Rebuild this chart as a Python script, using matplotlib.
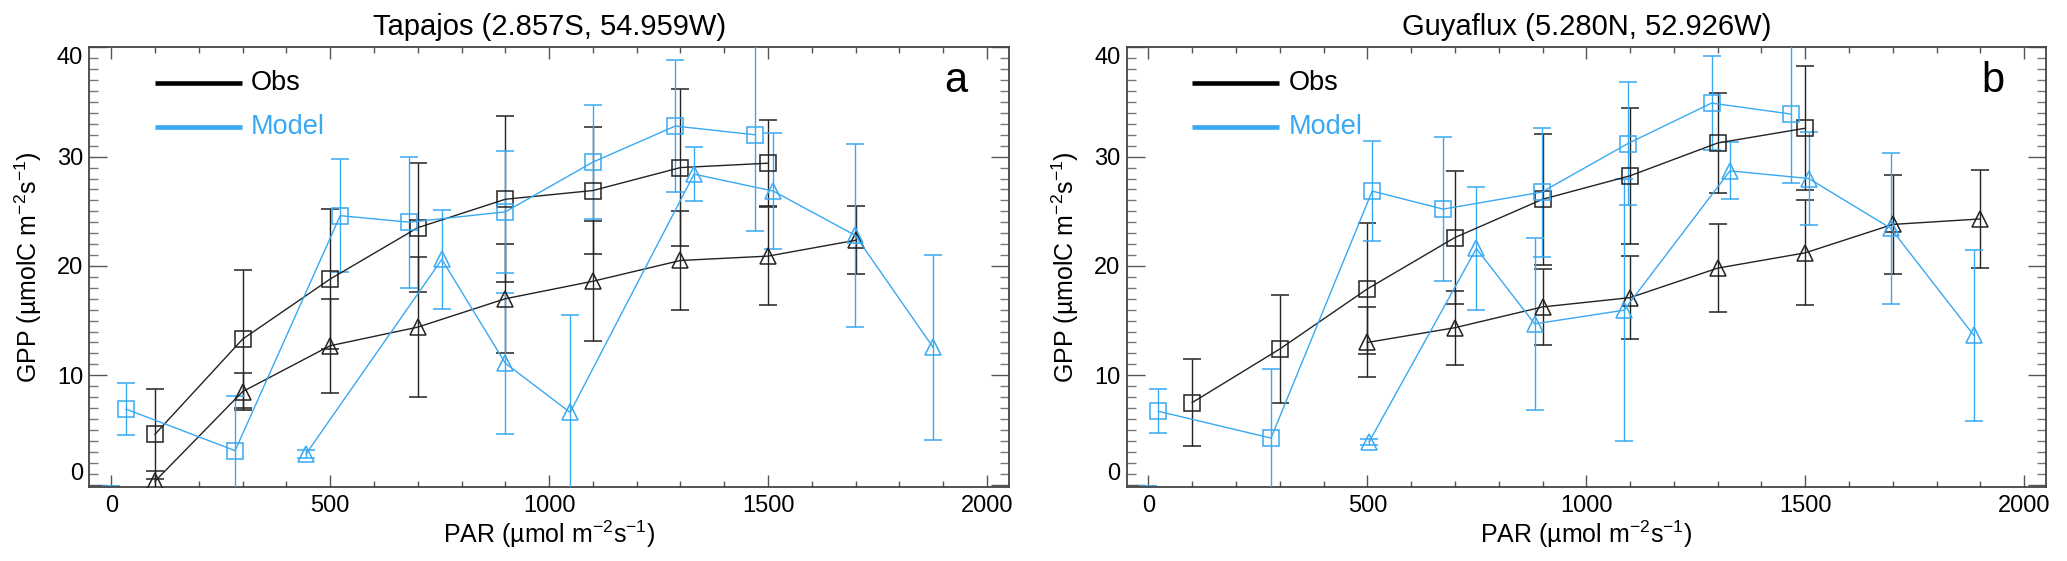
import matplotlib
matplotlib.use("Agg")
import matplotlib.pyplot as plt
from matplotlib.ticker import MultipleLocator, FixedLocator

plt.rcParams['font.family'] = ['Liberation Sans', 'DejaVu Sans']
plt.rcParams['mathtext.fontset'] = 'custom'
plt.rcParams['mathtext.rm'] = 'Liberation Sans'
plt.rcParams['mathtext.it'] = 'Liberation Sans:italic'

OBS_C = '#222222'
MOD_C = '#38A9F2'

titles = ["Tapajos (2.857S, 54.959W)", "Guyaflux (5.280N, 52.926W)"]
panel_letters = ["a", "b"]
legend_labels = ["Obs", "Model"]

# ---- Panel a : Tapajos ----
obs_sq_x_a = [100, 300, 500, 700, 900, 1100, 1300, 1500]
obs_sq_y_a = [4.6, 13.3, 18.8, 23.5, 26.1, 26.9, 29.0, 29.4]
obs_sq_e_a = [4.1, 6.3, 6.4, 5.9, 7.6, 5.8, 7.2, 3.95]
obs_tri_x_a = [100, 300, 500, 700, 900, 1100, 1300, 1500, 1700]
obs_tri_y_a = [0.3, 8.5, 12.7, 14.4, 17.0, 18.6, 20.5, 20.9, 22.35]
obs_tri_e_a = [0.9, 1.7, 4.3, 6.4, 5.0, 5.5, 4.5, 4.5, 3.1]
mod_sq_x_a = [34, 283, 523, 681, 900, 1100, 1288, 1470]
mod_sq_y_a = [6.9, 3.1, 24.6, 24.0, 24.95, 29.5, 32.8, 32.0]
mod_sq_e_a = [2.4, 5.0, 5.15, 6.0, 5.55, 5.2, 6.0, 8.8]
mod_tri_x_a = [445, 755, 900, 1048, 1331, 1512, 1699, 1877]
mod_tri_y_a = [2.8, 20.6, 11.1, 6.6, 28.4, 26.85, 22.8, 12.55]
mod_tri_e_a = [0.35, 4.5, 6.45, 8.95, 2.45, 5.3, 8.4, 8.45]
stray_x_a = [0]
stray_y_a = [-1.1]
stray_e_a = [1.0]

# ---- Panel b : Guyaflux ----
obs_sq_x_b = [100, 300, 500, 700, 900, 1100, 1300, 1500]
obs_sq_y_b = [7.5, 12.4, 17.9, 22.6, 26.1, 28.25, 31.25, 32.6]
obs_sq_e_b = [3.95, 4.9, 6.0, 6.1, 6.0, 6.2, 4.6, 5.65]
obs_tri_x_b = [500, 700, 900, 1100, 1300, 1500, 1700, 1900]
obs_tri_y_b = [13.0, 14.35, 16.25, 17.1, 19.8, 21.2, 23.8, 24.3]
obs_tri_e_b = [3.2, 3.4, 3.45, 3.8, 4.0, 4.8, 4.5, 4.5]
mod_sq_x_b = [23, 280, 511, 673, 898, 1095, 1286, 1467]
mod_sq_y_b = [6.7, 4.25, 26.85, 25.2, 26.75, 31.2, 34.9, 33.9]
mod_sq_e_b = [2.0, 6.3, 4.55, 6.6, 5.9, 5.6, 4.3, 6.3]
mod_tri_x_b = [504, 749, 882, 1086, 1328, 1508, 1695, 1885]
mod_tri_y_b = [3.9, 21.6, 14.7, 15.95, 28.7, 28.0, 23.45, 13.65]
mod_tri_e_b = [0.3, 5.6, 7.9, 12.0, 2.6, 4.25, 6.9, 7.85]
stray_x_b = [0]
stray_y_b = [-1.1]
stray_e_b = [1.0]

x_ticks = [0, 500, 1000, 1500, 2000]
y_ticks = [0, 10, 20, 30, 40]
xlabel = "PAR (µmol m$^{-2}$s$^{-1}$)"
ylabel = "GPP (µmolC m$^{-2}$s$^{-1}$)"

panels = [
    dict(obs_sq=(obs_sq_x_a, obs_sq_y_a, obs_sq_e_a),
         obs_tri=(obs_tri_x_a, obs_tri_y_a, obs_tri_e_a),
         mod_sq=(mod_sq_x_a, mod_sq_y_a, mod_sq_e_a),
         mod_tri=(mod_tri_x_a, mod_tri_y_a, mod_tri_e_a),
         stray=(stray_x_a, stray_y_a, stray_e_a)),
    dict(obs_sq=(obs_sq_x_b, obs_sq_y_b, obs_sq_e_b),
         obs_tri=(obs_tri_x_b, obs_tri_y_b, obs_tri_e_b),
         mod_sq=(mod_sq_x_b, mod_sq_y_b, mod_sq_e_b),
         mod_tri=(mod_tri_x_b, mod_tri_y_b, mod_tri_e_b),
         stray=(stray_x_b, stray_y_b, stray_e_b)),
]

fig = plt.figure(figsize=(20.67, 5.61), dpi=100)
lefts = [0.0432, 0.5450]

def eb(ax, data, color, marker, ms):
    x, y, e = data
    ax.errorbar(x, y, yerr=e, color=color, lw=1.0, marker=marker, ms=ms,
                mfc='none', mec=color, mew=1.1, elinewidth=1.0,
                capsize=6.5, capthick=1.0, zorder=3)

for i, p in enumerate(panels):
    ax = fig.add_axes([lefts[i], 0.1324, 0.4449, 0.7832])
    eb(ax, p['obs_sq'], OBS_C, 's', 11)
    eb(ax, p['obs_tri'], OBS_C, '^', 12)
    eb(ax, p['mod_sq'], MOD_C, 's', 11)
    eb(ax, p['mod_tri'], MOD_C, '^', 12)
    sx, sy, se = p['stray']
    ax.errorbar(sx, sy, yerr=se, fmt='none', ecolor=MOD_C, elinewidth=1.0,
                capsize=6.5, capthick=1.3)

    ax.set_xlim(-50, 2050)
    ax.set_ylim(-0.2, 40)
    ax.xaxis.set_major_locator(FixedLocator(x_ticks))
    ax.xaxis.set_minor_locator(MultipleLocator(100))
    ax.yaxis.set_major_locator(FixedLocator(y_ticks))
    ax.yaxis.set_minor_locator(MultipleLocator(1))
    ax.set_xticklabels([str(v) for v in x_ticks])
    ax.set_yticklabels([str(v) for v in y_ticks])
    ax.tick_params(axis='x', which='major', direction='in', length=8.5,
                   width=1.0, top=True, bottom=True, labelsize=17,
                   pad=6.0, color='#555555')
    ax.tick_params(axis='x', which='minor', direction='in', length=4.5,
                   width=1.0, top=True, bottom=True, color='#555555')
    ax.tick_params(axis='y', which='major', direction='in', length=13,
                   width=1.0, left=True, right=True, labelsize=17,
                   pad=4.5, color='#555555')
    ax.tick_params(axis='y', which='minor', direction='in', length=6.5,
                   width=1.0, left=True, right=True, color='#777777')
    ylabs = ax.get_yticklabels()
    ylabs[0].set_va('bottom')
    ylabs[-1].set_va('top')
    for s in ax.spines.values():
        s.set_linewidth(1.3)
        s.set_color('#444444')

    ax.set_xlabel(xlabel, fontsize=18)
    ax.xaxis.label.set_va('baseline')
    ax.xaxis.set_label_coords(0.5, -0.1274)
    ax.set_ylabel(ylabel, fontsize=18)
    ax.yaxis.label.set_va('baseline')
    ax.yaxis.set_label_coords(-0.0569, 0.5)
    ax.set_title(titles[i], fontsize=21, pad=8.6)

    # legend drawn in axes coordinates
    for j, (lab, col) in enumerate(zip(legend_labels, [OBS_C, MOD_C])):
        yy = [0.918, 0.818][j]
        ax.plot([0.0714, 0.166], [yy, yy], transform=ax.transAxes,
                color='black' if j == 0 else MOD_C, lw=3.3,
                solid_capstyle='butt')
        ax.text(0.176, yy, lab, transform=ax.transAxes, fontsize=19.5,
                va='center', ha='left',
                color='black' if j == 0 else MOD_C)
    ax.text(0.942, 0.899, panel_letters[i], transform=ax.transAxes,
            fontsize=30, ha='center', va='baseline')

fig.savefig("out.png", dpi=100)
